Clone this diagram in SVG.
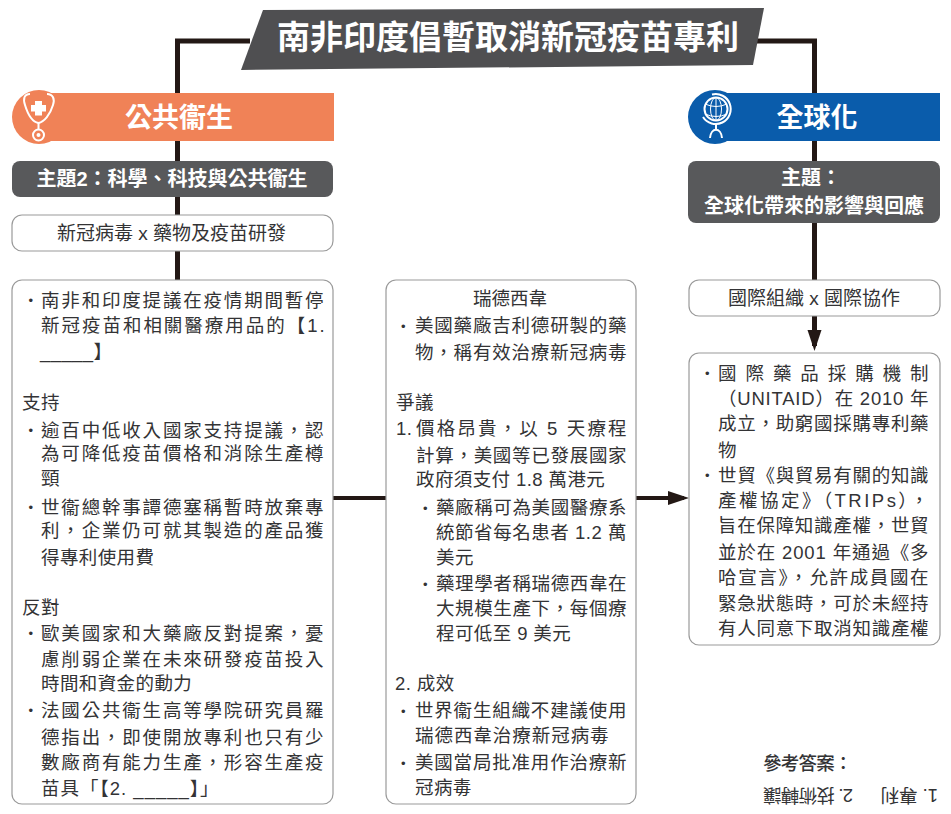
<svg xmlns="http://www.w3.org/2000/svg" width="951" height="814" viewBox="0 0 951 814">
<style>
text{font-family:"Liberation Sans","Noto Sans CJK TC",sans-serif;fill:#333335}
.b{font-size:18.5px;letter-spacing:.4px}
.h{font-weight:700;fill:#fff;text-anchor:middle}
.c{font-size:19px;text-anchor:middle}
.d{font-size:13px}
.box{fill:#fff;stroke:#9a9a9a;stroke-width:1.2}
.dark{fill:#58595b}
.w{fill:none;stroke:#fff;stroke-width:2}
.w1{fill:none;stroke:#fff;stroke-width:1}
.conn{fill:none;stroke:#231815;stroke-width:5}
.thin{stroke-width:4}
</style>
<defs>
<marker id="ah" markerUnits="userSpaceOnUse" markerWidth="22" markerHeight="16" refX="16" refY="8" orient="auto"><path d="M0 1L21 8L0 15Z" fill="#231815"/></marker>
</defs>
<rect width="951" height="814" fill="#fff"/>
<g id="connectors">
<path class="conn" d="M250 41H177.500V280"/>
<path class="conn" d="M757 41H814.500V280"/>
<path class="conn" d="M814.500 316V346" marker-end="url(#ah)"/>
<path class="conn thin" d="M333 498H386"/>
<path class="conn thin" d="M636 498H684" marker-end="url(#ah)"/>
</g>
<g id="title">
<path d="M263 10L764 8L753 65L241 70Z" fill="#4f4f51"/>
<text class="h" x="508" y="49" font-size="33">南非印度倡暫取消新冠疫苗專利</text>
</g>
<g id="public-health">
<circle cx="39" cy="117" r="27" fill="#f08257"/>
<rect x="39" y="93" width="295" height="48" fill="#f08257"/>
<path class="w" d="M30 94C24 94 23 99 25 105C28 115 33 122 38.500 123C44 122 50 115 53 105C55 99 53 94 47 94"/>
<path class="w" d="M38.500 123V130"/>
<circle class="w" cx="38.500" cy="135" r="5.500"/>
<circle cx="38.500" cy="135" r="2" fill="#fff"/>
<path d="M35 101H42V105H46V111.500H42V115.500H35V111.500H31V105H35Z" fill="#fff"/>
<text class="h" x="179" y="127" font-size="27">公共衞生</text>
</g>
<g id="theme-left">
<rect class="dark" x="12" y="161" width="321" height="36" rx="8"/>
<text class="h" x="172" y="186" font-size="20">主題2：科學、科技與公共衞生</text>
</g>
<g id="topic-left">
<rect class="box" x="12" y="215" width="321" height="36" rx="10"/>
<text class="c" x="171.500" y="240">新冠病毒 x 藥物及疫苗研發</text>
</g>
<g id="globalisation">
<circle cx="715" cy="117" r="27" fill="#0a5cab"/>
<rect x="715" y="93" width="225" height="48" fill="#0a5cab"/>
<circle class="w" cx="716" cy="109" r="11.500"/>
<ellipse class="w1" cx="716" cy="109" rx="5.500" ry="11.500"/>
<path class="w1" d="M705 104Q716 109 727 104M705 114Q716 119 727 114M716 97.500V120.500"/>
<path class="w" d="M712 94.500A15 15 0 1 1 703 117"/>
<path class="w" d="M716 124V129M710 138C711 127 721 127 722 138"/>
<text class="h" x="817" y="127" font-size="27">全球化</text>
</g>
<g id="theme-right">
<rect class="dark" x="688" y="161" width="252" height="62" rx="8"/>
<text class="h" x="811" y="185" font-size="20">主題：</text>
<text class="h" x="814" y="213" font-size="20">全球化帶來的影響與回應</text>
</g>
<g id="topic-right">
<rect class="box" x="689" y="280" width="251" height="36" rx="10"/>
<text class="c" x="814" y="305">國際組織 x 國際協作</text>
</g>
<g id="left-box">
<rect class="box" x="12" y="280" width="321" height="524" rx="10"/>
<text class="d" x="28.500" y="305">•</text>
<text class="b" x="41" y="306.500" textLength="283">南非和印度提議在疫情期間暫停</text>
<text class="b" x="41" y="331.500" textLength="284">新冠疫苗和相關醫療用品的【1.</text>
<text class="b" x="40" y="358">_____】</text>
<text class="b" x="22" y="409">支持</text>
<text class="d" x="28.500" y="435">•</text>
<text class="b" x="41" y="436.500" textLength="283">逾百中低收入國家支持提議，認</text>
<text class="b" x="41" y="460" textLength="283">為可降低疫苗價格和消除生產樽</text>
<text class="b" x="41" y="485">頸</text>
<text class="d" x="28.500" y="512">•</text>
<text class="b" x="41" y="513.500" textLength="283">世衞總幹事譚德塞稱暫時放棄專</text>
<text class="b" x="41" y="537" textLength="283">利，企業仍可就其製造的產品獲</text>
<text class="b" x="41" y="564">得專利使用費</text>
<text class="b" x="22" y="614">反對</text>
<text class="d" x="28.500" y="638">•</text>
<text class="b" x="41" y="639.500" textLength="283">歐美國家和大藥廠反對提案，憂</text>
<text class="b" x="41" y="665.500" textLength="283">慮削弱企業在未來研發疫苗投入</text>
<text class="b" x="41" y="690">時間和資金的動力</text>
<text class="d" x="28.500" y="715">•</text>
<text class="b" x="41" y="716.500" textLength="283">法國公共衞生高等學院研究員羅</text>
<text class="b" x="41" y="743.500" textLength="283">德指出，即使開放專利也只有少</text>
<text class="b" x="41" y="768.500" textLength="283">數廠商有能力生產，形容生產疫</text>
<text class="b" x="41" y="795" textLength="178">苗具「【2. _____】」</text>
</g>
<g id="middle-box">
<rect class="box" x="386" y="280" width="250" height="524" rx="10"/>
<text class="c" x="510" y="305" style="font-size:18.500px">瑞德西韋</text>
<text class="d" x="401" y="331">•</text>
<text class="b" x="415" y="332" textLength="212">美國藥廠吉利德研製的藥</text>
<text class="b" x="415" y="358.500" textLength="212">物，稱有效治療新冠病毒</text>
<text class="b" x="396" y="408.500">爭議</text>
<text class="b" x="396" y="435">1.</text>
<text class="b" x="416" y="435" textLength="211">價格昂貴，以 5 天療程</text>
<text class="b" x="416" y="461.500" textLength="211">計算，美國等已發展國家</text>
<text class="b" x="416" y="486">政府須支付 1.8 萬港元</text>
<text class="d" x="423" y="513">•</text>
<text class="b" x="436" y="514" textLength="191">藥廠稱可為美國醫療系</text>
<text class="b" x="436" y="539" textLength="191">統節省每名患者 1.2 萬</text>
<text class="b" x="436" y="564">美元</text>
<text class="d" x="423" y="589">•</text>
<text class="b" x="436" y="590" textLength="191">藥理學者稱瑞德西韋在</text>
<text class="b" x="436" y="615" textLength="191">大規模生產下，每個療</text>
<text class="b" x="436" y="640">程可低至 9 美元</text>
<text class="b" x="395" y="690">2. 成效</text>
<text class="d" x="401" y="716">•</text>
<text class="b" x="415" y="717" textLength="212">世界衞生組織不建議使用</text>
<text class="b" x="415" y="742" textLength="194">瑞德西韋治療新冠病毒</text>
<text class="d" x="401" y="768">•</text>
<text class="b" x="415" y="769" textLength="212">美國當局批准用作治療新</text>
<text class="b" x="415" y="794">冠病毒</text>
</g>
<g id="right-box">
<rect class="box" x="689" y="353" width="251" height="292" rx="10"/>
<text class="d" x="705" y="378">•</text>
<text class="b" x="718" y="379.500" textLength="211">國際藥品採購機制</text>
<text class="b" x="718" y="404.500" textLength="211">（UNITAID）在 2010 年</text>
<text class="b" x="718" y="429.500" textLength="211">成立，助窮國採購專利藥</text>
<text class="b" x="718" y="456.500">物</text>
<text class="d" x="705" y="480">•</text>
<text class="b" x="718" y="481.500" textLength="211">世貿《與貿易有關的知識</text>
<text class="b" x="718" y="506.500" textLength="211">產權協定》（TRIPs），</text>
<text class="b" x="718" y="531.500" textLength="211">旨在保障知識產權，世貿</text>
<text class="b" x="718" y="558.500" textLength="211">並於在 2001 年通過《多</text>
<text class="b" x="718" y="583.500" textLength="211">哈宣言》，允許成員國在</text>
<text class="b" x="718" y="609.500" textLength="211">緊急狀態時，可於未經持</text>
<text class="b" x="718" y="634.500" textLength="211">有人同意下取消知識產權</text>
</g>
<g id="answers">
<text class="b" x="763" y="770" font-weight="500" textLength="90">參考答案：</text>
<g transform="rotate(180 938 795)">
<text x="938" y="801.500" font-size="18.500">1. 專利</text>
<text x="1023" y="801.500" font-size="18.500" textLength="90">2. 技術轉讓</text>
</g>
</g>
</svg>
